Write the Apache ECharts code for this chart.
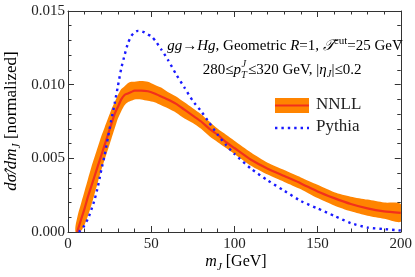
<!DOCTYPE html>
<html><head><meta charset="utf-8">
<script src="https://cdn.jsdelivr.net/npm/echarts@6/dist/echarts.min.js"></script>
<style>html,body{margin:0;padding:0;background:#fff}#c{width:415px;height:277px}</style>
</head><body><div id="c"></div>
<script>
// ---- data ----
const xTicks = [0, 50, 100, 150, 200];
const yTicks = [0.000, 0.005, 0.010, 0.015];

const mBand = [4.5, 6, 8, 10, 12, 14, 16, 18, 20, 22, 24, 26, 28, 30, 32, 34, 36, 38, 40, 44, 48, 52, 56, 60, 65, 70, 75, 80, 85, 90, 95, 100, 110, 120, 130, 140, 150, 160, 170, 180, 190, 200];
const nnllUpper = [0.0004, 0.0012, 0.0020, 0.0028, 0.0036, 0.0044, 0.0051, 0.0058, 0.0065, 0.0071, 0.0077, 0.0083, 0.0088, 0.0093, 0.0097, 0.0099, 0.0101, 0.0102, 0.0102, 0.01025, 0.0102, 0.0100, 0.0098, 0.0095, 0.0092, 0.0088, 0.0084, 0.0080, 0.0075, 0.0070, 0.0066, 0.0062, 0.0054, 0.0047, 0.0042, 0.0037, 0.0032, 0.0027, 0.0024, 0.0022, 0.0020, 0.0019];
const nnllLower = [0, 0, 0.0001, 0.0005, 0.0011, 0.0018, 0.0026, 0.0034, 0.0042, 0.0049, 0.0056, 0.0063, 0.0070, 0.0077, 0.0082, 0.0086, 0.0088, 0.0089, 0.0090, 0.0090, 0.0089, 0.0088, 0.0086, 0.0084, 0.0081, 0.0077, 0.0074, 0.0070, 0.0065, 0.0061, 0.0057, 0.0053, 0.0045, 0.0039, 0.0034, 0.0029, 0.0023, 0.0018, 0.0014, 0.0011, 0.0009, 0.0007];

const mCenter = [5.5, 8, 10, 12, 14, 16, 18, 20, 22, 24, 26, 28, 30, 32, 34, 36, 38, 40, 44, 48, 52, 56, 60, 65, 70, 75, 80, 85, 90, 95, 100, 110, 120, 130, 140, 150, 160, 170, 180, 190, 200];
const nnllCenter = [0, 0.0009, 0.0016, 0.0024, 0.0031, 0.0038, 0.0045, 0.0052, 0.0059, 0.0066, 0.0073, 0.0080, 0.0085, 0.0090, 0.0093, 0.0094, 0.0095, 0.0096, 0.0096, 0.00955, 0.0094, 0.0092, 0.0090, 0.0087, 0.0083, 0.0079, 0.0075, 0.0070, 0.0066, 0.0061, 0.0057, 0.0049, 0.0043, 0.0038, 0.0033, 0.00275, 0.0023, 0.0019, 0.0016, 0.0014, 0.0013];

const mPythia = [6.5, 9, 12, 14, 16, 18, 20, 22, 24, 26, 28, 30, 32, 34, 36, 38, 40, 42, 44, 46, 48, 50, 53, 56, 60, 65, 70, 75, 80, 85, 90, 95, 100, 110, 120, 130, 140, 150, 160, 170, 180, 190, 200];
const pythia = [0, 0.0003, 0.0009, 0.0015, 0.0022, 0.0031, 0.0042, 0.0052, 0.0064, 0.0076, 0.0087, 0.0099, 0.0111, 0.0120, 0.0128, 0.0133, 0.01355, 0.01365, 0.01363, 0.01355, 0.0134, 0.0133, 0.0129, 0.0124, 0.0117, 0.0107, 0.0098, 0.0089, 0.0082, 0.0074, 0.0066, 0.0059, 0.0053, 0.0043, 0.0035, 0.0028, 0.0021, 0.0016, 0.0011, 0.0006, 0.0003, 0.0002, 0.0001];

// ---- chart ----
const ORANGE = '#ff8400', RED = '#f2301c', BLUE = '#1a1aff', AX = '#333';
const SERIF = '"Liberation Serif","DejaVu Serif",serif';
const pair = (xs, ys) => xs.map((x, i) => [x, ys[i]]);

const chart = echarts.init(document.getElementById('c'), null, {renderer: 'canvas'});

function axisCommon(showLabel) {
  return {
    axisLine: {show: true, onZero: false, lineStyle: {color: AX, width: 1}},
    axisTick: {show: true, inside: true, length: 6, lineStyle: {color: AX}},
    minorTick: {show: true, splitNumber: 5, length: 3.5, lineStyle: {color: AX}},
    splitLine: {show: false},
    minorSplitLine: {show: false},
    axisLabel: {show: showLabel, color: '#222', fontFamily: SERIF, fontSize: 15},
  };
}

const fs = 15;
const richBase = {
  n: {fontFamily: SERIF, fontSize: fs, color: '#222', lineHeight: 20},
  i: {fontFamily: SERIF, fontSize: fs, fontStyle: 'italic', color: '#222', lineHeight: 20},
  sup: {fontFamily: SERIF, fontSize: 11, color: '#222', lineHeight: 11, verticalAlign: 'top'},
  sub: {fontFamily: SERIF, fontSize: 10.5, fontStyle: 'italic', color: '#222', lineHeight: 12, verticalAlign: 'bottom'},
};
const richBig = {
  n: {fontFamily: SERIF, fontSize: 17, color: '#222', lineHeight: 22},
  i: {fontFamily: SERIF, fontSize: 17, fontStyle: 'italic', color: '#222', lineHeight: 22},
  sub: {fontFamily: SERIF, fontSize: 11.5, fontStyle: 'italic', color: '#222', lineHeight: 13, verticalAlign: 'bottom'},
};
const richX = {
  n: {fontFamily: SERIF, fontSize: 16, color: '#222', lineHeight: 22},
  i: {fontFamily: SERIF, fontSize: 16, fontStyle: 'italic', color: '#222', lineHeight: 22},
  sub: {fontFamily: SERIF, fontSize: 11, fontStyle: 'italic', color: '#222', lineHeight: 13, verticalAlign: 'bottom'},
};

const bandData = mBand.map((m, i) => [m, nnllLower[i], nnllUpper[i]]);

chart.setOption({
  animation: false,
  grid: {left: 68, right: 14, top: 11, bottom: 45},
  xAxis: [
    Object.assign({type: 'value', min: 0, max: 200, interval: 50, position: 'bottom'}, axisCommon(true),
      {axisLabel: {show: true, color: '#222', fontFamily: SERIF, fontSize: 15, margin: 5}}),
    Object.assign({type: 'value', min: 0, max: 200, interval: 50, position: 'top'}, axisCommon(false)),
  ],
  yAxis: [
    Object.assign({type: 'value', min: 0, max: 0.015, interval: 0.005, position: 'left'}, axisCommon(true),
      {axisLabel: {show: true, color: '#222', fontFamily: SERIF, fontSize: 15, margin: 3,
        formatter: v => v.toFixed(3)}}),
    Object.assign({type: 'value', min: 0, max: 0.015, interval: 0.005, position: 'right'}, axisCommon(false)),
  ],
  series: [
    {name: 'NNLL band', type: 'custom', data: bandData, encode: {x: 0, y: [1, 2]}, z: 2, silent: true,
      clip: true,
      renderItem: function (params, api) {
        if (params.dataIndex !== 0) return null;
        const up = [], lo = [];
        for (let i = 0; i < bandData.length; i++) {
          up.push(api.coord([bandData[i][0], bandData[i][2]]));
          lo.push(api.coord([bandData[i][0], bandData[i][1]]));
        }
        const pts = up.concat(lo.reverse());
        return {type: 'polygon', shape: {points: pts, smooth: 0.25}, style: {fill: ORANGE}};
      }},
    {name: 'NNLL', type: 'line', data: pair(mCenter, nnllCenter), symbol: 'none', smooth: 0.2,
      lineStyle: {color: RED, width: 2.2}, z: 3},
    {name: 'Pythia', type: 'line', data: pair(mPythia, pythia), symbol: 'none', smooth: 0.2,
      lineStyle: {color: BLUE, width: 2.4, type: [2.4, 4], cap: 'butt'}, z: 4},
  ],
  graphic: {elements: [
    // annotation line 1
    {type: 'text', x: 285, y: 46, z: 100, style: {
      text: '{i|gg}{n|→}{i|Hg}{n|, Geometric }{i|R}{n|=1, }{i|𝒯}{sup|cut}{n|=25 GeV}',
      rich: richBase, align: 'center', verticalAlign: 'middle'}},
    // annotation line 2
    {type: 'text', x: 241, y: 70, z: 100, style: {text: '{n|280≤}{i|p}', rich: richBase, align: 'right', verticalAlign: 'middle'}},
    {type: 'text', x: 241.5, y: 64, z: 100, style: {text: 'J', font: 'italic 10.5px ' + SERIF, fill: '#222', align: 'left', verticalAlign: 'middle'}},
    {type: 'text', x: 241, y: 75.5, z: 100, style: {text: 'T', font: 'italic 10.5px ' + SERIF, fill: '#222', align: 'left', verticalAlign: 'middle'}},
    {type: 'text', x: 248, y: 70, z: 100, style: {text: '{n|≤320 GeV, |}{i|η}{sub|J}{n||≤0.2}', rich: richBase, align: 'left', verticalAlign: 'middle'}},
    // legend
    {type: 'rect', z: 100, shape: {x: 275, y: 98, width: 34, height: 15}, style: {fill: ORANGE}},
    {type: 'line', z: 101, shape: {x1: 275, y1: 105.5, x2: 309, y2: 105.5}, style: {stroke: RED, lineWidth: 2.2}},
    {type: 'text', x: 316, y: 105, z: 100, style: {text: 'NNLL', font: '17px ' + SERIF, fill: '#222', align: 'left', verticalAlign: 'middle'}},
    {type: 'line', z: 100, shape: {x1: 275, y1: 128, x2: 309, y2: 128}, style: {stroke: BLUE, lineWidth: 2.4, lineDash: [2.4, 4]}},
    {type: 'text', x: 316, y: 127, z: 100, style: {text: 'Pythia', font: '17px ' + SERIF, fill: '#222', align: 'left', verticalAlign: 'middle'}},
    // x axis title
    {type: 'text', x: 236, y: 262, z: 100, style: {text: '{i|m}{sub|J}{n| [GeV]}', rich: richX, align: 'center', verticalAlign: 'middle'}},
    // y axis title
    {type: 'text', x: 12, y: 121, z: 100, rotation: Math.PI / 2, style: {
      text: '{i|dσ̂/dm}{sub|J}{n| [normalized]}', rich: richBig, align: 'center', verticalAlign: 'middle'}},
  ]},
});
</script></body></html>
